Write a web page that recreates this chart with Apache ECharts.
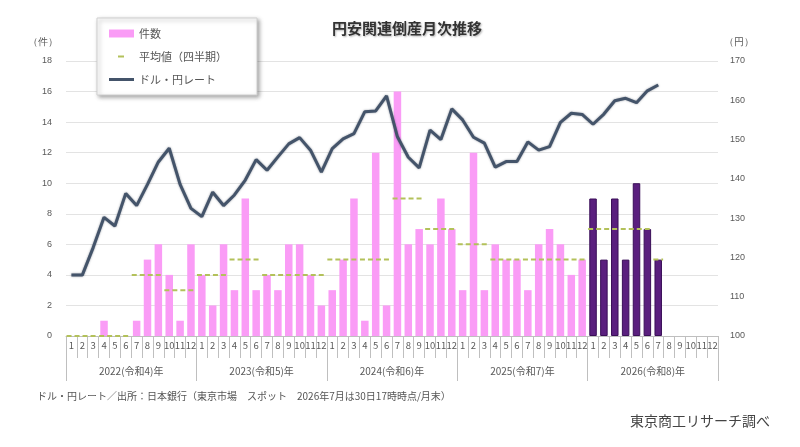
<!DOCTYPE html>
<html>
<head>
<meta charset="utf-8">
<script src="https://cdn.jsdelivr.net/npm/echarts@6/dist/echarts.min.js"></script>
<style>
  html, body { margin: 0; padding: 0; background: #fff; }
  #main { width: 800px; height: 447px; }
</style>
</head>
<body>
<div id="main"></div>
<script>
// 月ラベル（2022年1月〜2026年12月）
var months = [];
for (var y = 0; y < 5; y++) {
  for (var m = 1; m <= 12; m++) months.push(String(m));
}
var years = ['2022(令和4)年', '2023(令和5)年', '2024(令和6)年', '2025(令和7)年', '2026(令和8)年'];

// 件数
var counts2022 = [0, 0, 0, 1, 0, 0, 1, 5, 6, 4, 1, 6];
var counts2023 = [4, 2, 6, 3, 9, 3, 4, 3, 6, 6, 4, 2];
var counts2024 = [3, 5, 9, 1, 12, 2, 16, 6, 7, 6, 9, 7];
var counts2025 = [3, 12, 3, 6, 5, 5, 3, 6, 7, 6, 4, 5];
var counts2026 = [9, 5, 9, 5, 10, 7, 5];

// 平均値（四半期）
var quarterAvg = [0, 0, 4, 3, 4, 5, 4, 4, 5, 5, 9, 7, 6, 5, 5, 5, 7, 7, 5];

// ドル・円レート（月末）
var rate = [
  115.5, 115.5, 122.5, 130.2, 128.0, 136.3, 133.2, 138.6, 144.3, 147.8, 138.6, 132.5,
  130.4, 136.6, 133.2, 135.9, 139.7, 144.9, 142.2, 145.6, 148.9, 150.5, 147.3, 141.7,
  147.7, 150.2, 151.5, 157.1, 157.3, 161.1, 150.7, 145.5, 142.8, 152.4, 150.0, 157.8,
  155.0, 150.6, 149.1, 143.0, 144.4, 144.4, 149.4, 147.3, 148.2, 154.4, 156.7, 156.4,
  153.9, 156.5, 159.9, 160.5, 159.4, 162.4, 163.9
];

var allCounts = counts2022.concat(counts2023, counts2024, counts2025);
var barData = allCounts.map(function (v) { return v; });
counts2026.forEach(function (v) {
  barData.push({
    value: v,
    itemStyle: { color: '#5a1f7e', borderColor: '#3a0f58', borderWidth: 1 }
  });
});

// 四半期ごとの区間データ [開始インデックス, 値, 月数]
var avgData = quarterAvg.map(function (v, i) {
  var start = i * 3;
  var len = Math.min(3, rate.length - start);
  return [start, v, len];
});

var labelColor = '#595959';
var myChart = echarts.init(document.getElementById('main'));

var option = {
  backgroundColor: '#fff',
  animation: false,
  title: {
    text: '円安関連倒産月次推移',
    left: 402,
    textAlign: 'center',
    top: 16,
    textStyle: {
      fontSize: 15, fontWeight: 'bold', color: '#333', fontFamily: 'Noto Sans CJK JP',
      textShadowColor: 'rgba(0,0,0,0.3)', textShadowBlur: 2, textShadowOffsetX: 1, textShadowOffsetY: 1
    }
  },
  legend: {
    orient: 'vertical',
    left: 97,
    top: 18,
    width: 158,
    padding: [10, 30, 10, 12],
    itemGap: 12,
    itemWidth: 25,
    itemHeight: 8,
    backgroundColor: '#fff',
    borderColor: '#d0d0d0',
    borderWidth: 1,
    shadowColor: 'rgba(0,0,0,0.35)',
    shadowBlur: 4,
    shadowOffsetX: 2,
    shadowOffsetY: 2,
    textStyle: { fontSize: 11, color: '#555', fontFamily: 'Noto Sans CJK JP' },
    data: [
      { name: '件数', icon: 'rect' },
      { name: '平均値（四半期）', icon: 'path://M0,0 M25,8 M9,3 H15 V5 H9 Z', itemStyle: { color: '#b3c15a' } },
      { name: 'ドル・円レート', icon: 'path://M0,0 M25,8 M0,2.5 H25 V5.5 H0 Z', itemStyle: { color: '#44546a' } }
    ]
  },
  grid: { left: 66, right: 82, top: 61, bottom: 111 },
  xAxis: [
    {
      type: 'category',
      data: months,
      position: 'bottom',
      boundaryGap: true,
      axisLine: { lineStyle: { color: '#bfbfbf' } },
      axisTick: { show: true, interval: 0, length: 22, lineStyle: { color: '#bfbfbf' } },
      axisLabel: { interval: 0, fontSize: 9.5, color: labelColor, margin: 5, fontFamily: 'Noto Sans CJK JP' }
    },
    {
      type: 'category',
      data: years,
      position: 'bottom',
      boundaryGap: true,
      axisLine: { show: false },
      axisTick: { show: true, interval: 0, length: 45, lineStyle: { color: '#bfbfbf' } },
      axisLabel: { interval: 0, fontSize: 10, color: labelColor, margin: 30, fontFamily: 'Noto Sans CJK JP' }
    }
  ],
  yAxis: [
    {
      type: 'value',
      min: 0,
      max: 18,
      interval: 2,
      name: '（件）',
      nameLocation: 'end',
      nameGap: 14,
      nameTextStyle: { fontSize: 10, color: labelColor, align: 'right', padding: [0, 8, 0, 0] },
      axisLine: { show: false },
      axisTick: { show: false },
      axisLabel: { fontSize: 9, color: labelColor, margin: 14 },
      splitLine: { lineStyle: { color: '#e3e3e3' } }
    },
    {
      type: 'value',
      min: 100,
      max: 170,
      interval: 10,
      name: '（円）',
      nameLocation: 'end',
      nameGap: 14,
      nameTextStyle: { fontSize: 10, color: labelColor, align: 'left', padding: [0, 0, 0, 6] },
      axisLine: { show: false },
      axisTick: { show: false },
      axisLabel: { fontSize: 9, color: labelColor, margin: 12 },
      splitLine: { show: false }
    }
  ],
  series: [
    {
      name: '件数',
      type: 'bar',
      xAxisIndex: 0,
      yAxisIndex: 0,
      barWidth: 7.5,
      itemStyle: { color: '#fa9cf6' },
      data: barData
    },
    {
      name: '平均値（四半期）',
      type: 'custom',
      xAxisIndex: 0,
      yAxisIndex: 0,
      itemStyle: { color: '#b3c15a' },
      renderItem: function (params, api) {
        var start = api.value(0);
        var len = api.value(2);
        var p = api.coord([start, api.value(1)]);
        var w = api.size([1, 0])[0];
        return {
          type: 'line',
          shape: { x1: p[0] - w * 0.45, y1: p[1], x2: p[0] + w * (len - 1) + w * 0.45, y2: p[1] },
          style: { stroke: '#b3c15a', lineWidth: 2, lineDash: [5, 3] }
        };
      },
      encode: { x: 0, y: 1 },
      data: avgData,
      z: 3
    },
    {
      name: 'ドル・円レート',
      type: 'line',
      xAxisIndex: 0,
      yAxisIndex: 1,
      symbol: 'none',
      lineStyle: { color: '#44546a', width: 3, shadowColor: 'rgba(30,40,60,0.5)', shadowBlur: 2 },
      itemStyle: { color: '#44546a' },
      data: rate,
      z: 4
    }
  ],
  graphic: [
    {
      type: 'text',
      left: 37,
      top: 391,
      style: {
        text: 'ドル・円レート／出所：日本銀行（東京市場　スポット　2026年7月は30日17時時点/月末）',
        fontSize: 10,
        fill: '#555',
        fontFamily: 'Noto Sans CJK JP'
      }
    },
    {
      type: 'text',
      right: 30,
      top: 414,
      style: {
        text: '東京商工リサーチ調べ',
        fontSize: 14,
        fill: '#444',
        fontFamily: 'Noto Sans CJK JP'
      }
    }
  ]
};

myChart.setOption(option);
</script>
</body>
</html>
